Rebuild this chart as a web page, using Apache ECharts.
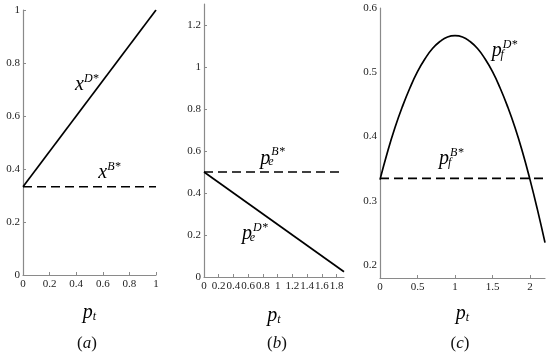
<!DOCTYPE html>
<html><head><meta charset="utf-8">
<script src="https://cdn.jsdelivr.net/npm/echarts@6/dist/echarts.min.js"></script>
<style>html,body{margin:0;padding:0;background:#fff}#c{width:550px;height:355px}</style>
</head><body><div id="c"></div>
<script>
// Panel (a)
const ptA = [0, 1];
const xD = [0.333, 1];
const xB = [0.333, 0.333];
// Panel (b)
const ptB = [0, 1.9];
const peD = [0.5, 0.025];
const peB = [0.5, 0.5];
// Panel (c)
const ptC = [0, 0.1, 0.2, 0.3, 0.4, 0.5, 0.6, 0.7, 0.8, 0.9, 1.0, 1.1, 1.2, 1.3, 1.4, 1.5, 1.6, 1.7, 1.8, 1.9, 2.0, 2.1, 2.2];
const pfD = [0.333, 0.376, 0.414, 0.447, 0.476, 0.501, 0.521, 0.537, 0.548, 0.555, 0.557, 0.555, 0.548, 0.537, 0.521, 0.501, 0.476, 0.447, 0.414, 0.376, 0.333, 0.286, 0.235];
const ptCB = [0, 2.2];
const pfB = [0.335, 0.335];
// Tick settings
const xTicksA = {min: 0, max: 1, interval: 0.2};
const yTicksA = {min: 0, max: 1, interval: 0.2};
const xTicksB = {min: 0, max: 1.9, interval: 0.2};
const yTicksB = {min: 0, max: 1.3, interval: 0.2};
const xTicksC = {min: 0, max: 2.2, interval: 0.5};
const yTicksC = {min: 0.18, max: 0.6, interval: 0.02};
const yLabelsC = [0.2, 0.3, 0.4, 0.5, 0.6];
// Panel titles
const panelNames = ['a', 'b', 'c'];

const serif = '"Liberation Serif", "DejaVu Serif", serif';
const tok = {fontFamily: serif, fontStyle: 'italic', color: '#000', textBorderWidth: 0, textShadowBlur: 0};
const rich = {
  b: Object.assign({}, tok, {fontSize: 20, lineHeight: 22, verticalAlign: 'bottom'}),
  sup: Object.assign({}, tok, {fontSize: 12, lineHeight: 12, verticalAlign: 'top'}),
  sub: Object.assign({}, tok, {fontSize: 12, lineHeight: 12, verticalAlign: 'bottom', width: 1}),
  sub2: Object.assign({}, tok, {fontSize: 12, lineHeight: 12, verticalAlign: 'bottom'})
};

function zip(a, b) { return a.map((v, i) => [v, b[i]]); }

const axisCommon = {
  type: 'value',
  axisLine: {show: true, onZero: false, lineStyle: {color: '#8a8a8a', width: 1.2}},
  axisTick: {show: true, inside: true, length: 3, lineStyle: {color: '#8a8a8a'}},
  splitLine: {show: false},
  axisLabel: {fontFamily: serif, fontSize: 11, color: '#222', margin: 4}
};

function xAxis(idx, t, gap, hideMax) {
  return Object.assign({}, axisCommon, {
    gridIndex: idx, min: t.min, max: t.max, interval: t.interval,
    axisLabel: Object.assign({}, axisCommon.axisLabel, {showMaxLabel: !hideMax}),
    name: '{b|p}{sub2|t}', nameLocation: 'middle', nameGap: gap,
    nameTextStyle: {rich: rich}
  });
}
function yAxis(idx, t, hideMin, hideMax) {
  return Object.assign({}, axisCommon, {
    gridIndex: idx, min: t.min, max: t.max, interval: t.interval,
    axisLabel: Object.assign({}, axisCommon.axisLabel, {showMinLabel: !hideMin, showMaxLabel: !hideMax, margin: 3})
  });
}

function solid(idx, data) {
  return {type: 'line', xAxisIndex: idx, yAxisIndex: idx, data: data, symbol: 'none',
    lineStyle: {color: '#000', width: 1.7}, silent: true};
}
function dashed(idx, data) {
  return {type: 'line', xAxisIndex: idx, yAxisIndex: idx, data: data, symbol: 'none',
    lineStyle: {color: '#000', width: 1.7, type: [9, 5]}, silent: true};
}
function note(idx, pos, text) {
  return {type: 'scatter', xAxisIndex: idx, yAxisIndex: idx, symbolSize: 0, silent: true,
    itemStyle: {color: '#000', opacity: 1},
    data: [pos], label: {show: true, position: 'inside', color: '#000', opacity: 1, textBorderWidth: 0, formatter: text, rich: rich}};
}

const yAxisC = yAxis(2, yTicksC, true, false);
yAxisC.axisTick = {show: false};
yAxisC.axisLabel.formatter = function (v) {
  const hit = yLabelsC.find(l => Math.abs(l - v) < 1e-6);
  return hit === undefined ? '' : String(hit);
};

const option = {
  animation: false,
  backgroundColor: '#fff',
  title: panelNames.map((n, i) => ({
    text: '{n|(}{i|' + n + '}{n|)}',
    left: [82, 272, 455][i], top: 330, textAlign: 'center',
    textStyle: {fontWeight: 'normal', rich: {
      n: {fontFamily: serif, fontWeight: 'normal', fontSize: 17, color: '#111'},
      i: {fontFamily: serif, fontWeight: 'normal', fontStyle: 'italic', fontSize: 17, color: '#111'}
    }}
  })),
  grid: [
    {left: 23, top: 10, width: 133, height: 265},
    {left: 204, top: 4, width: 140, height: 273},
    {left: 380, top: 8, width: 165, height: 270}
  ],
  xAxis: [xAxis(0, xTicksA, 26, false), xAxis(1, xTicksB, 27, true), xAxis(2, xTicksC, 24, true)],
  yAxis: [yAxis(0, yTicksA, false, false), yAxis(1, yTicksB, false, true), yAxisC],
  series: [
    solid(0, zip(ptA, xD)),
    dashed(0, zip(ptA, xB)),
    note(0, [0.48, 0.72], '{b|x}{sup|D*}'),
    note(0, [0.65, 0.39], '{b|x}{sup|B*}'),
    dashed(1, zip(ptB, peB)),
    solid(1, zip(ptB, peD)),
    note(1, [0.93, 0.57], '{b|p}{sub|e}{sup|B*}'),
    note(1, [0.69, 0.21], '{b|p}{sub|e}{sup|D*}'),
    Object.assign(solid(2, zip(ptC, pfD)), {smooth: true}),
    dashed(2, zip(ptCB, pfB)),
    note(2, [1.66, 0.535], '{b|p}{sub|f}{sup|D*}'),
    note(2, [0.95, 0.367], '{b|p}{sub|f}{sup|B*}')
  ]
};
const chart = echarts.init(document.getElementById('c'), null, {renderer: 'canvas'});
chart.setOption(option);
</script></body></html>
